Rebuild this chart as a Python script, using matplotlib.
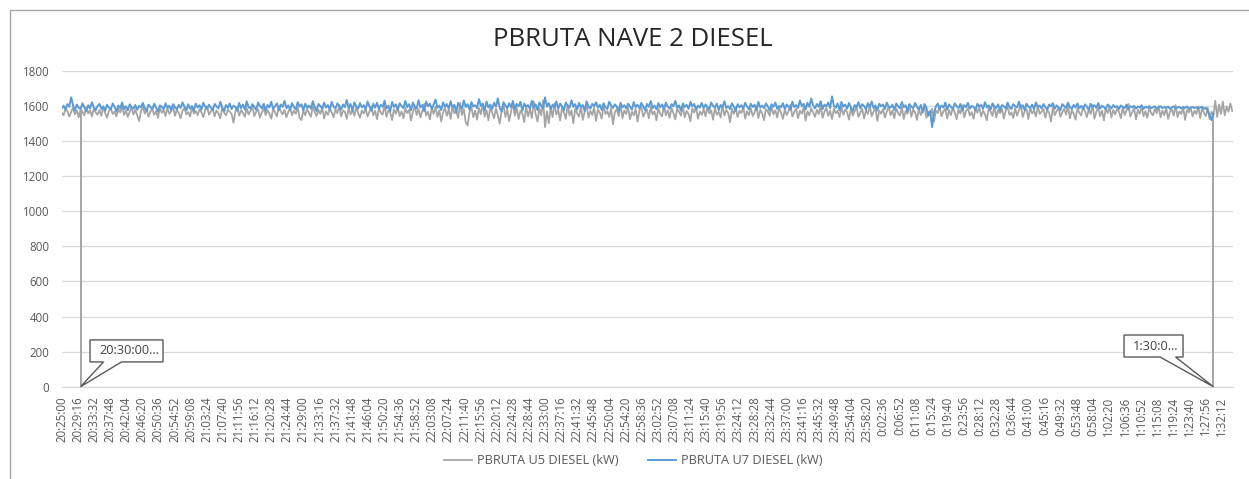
import matplotlib
matplotlib.use("Agg")
import matplotlib.pyplot as plt
from matplotlib.patches import Rectangle, Polygon
import numpy as np

plt.rcParams['font.family'] = ['Open Sans', 'DejaVu Sans']

# ---------------- data ----------------
title = "PBRUTA NAVE 2 DIESEL"
series_names = ["PBRUTA U5 DIESEL (kW)", "PBRUTA U7 DIESEL (kW)"]
start_seconds = 20 * 3600 + 25 * 60   # 20:25:00
step_s = 30                            # sampling step of the values below (s)
label_step_s = 256                     # spacing of category labels (s)
n_labels = 73
x_end_s = 18607

u5 = [
    1562, 1548, 1583, 1571, 1540, 1566, 1590, 1553, 1575, 1536, 1580, 1569, 1547, 1593, 1558, 1574, 1541, 1586, 1564, 1551,
    1578, 1545, 1597, 1560, 1533, 1572, 1588, 1555, 1569, 1542, 1584, 1563, 1599, 1549, 1576, 1538, 1567, 1591, 1552, 1580,
    1546, 1515, 1570, 1594, 1557, 1581, 1539, 1568, 1585, 1550, 1573, 1534, 1592, 1561, 1577, 1543, 1587, 1556, 1570, 1601,
    1544, 1579, 1560, 1531, 1574, 1589, 1553, 1566, 1540, 1595, 1557, 1572, 1548, 1583, 1565, 1537, 1578, 1599, 1551, 1569,
    1586, 1542, 1575, 1558, 1530, 1591, 1563, 1547, 1580, 1568, 1554, 1505, 1571, 1593, 1545, 1577, 1561, 1539, 1588, 1552,
    1574, 1596, 1543, 1567, 1582, 1535, 1562, 1590, 1549, 1576, 1557, 1528, 1585, 1564, 1541, 1598, 1570, 1553, 1579, 1537,
    1566, 1589, 1548, 1573, 1556, 1594, 1532, 1520, 1575, 1547, 1583, 1560, 1539, 1600, 1565, 1544, 1578, 1555, 1592, 1529,
    1571, 1550, 1587, 1563, 1536, 1581, 1559, 1604, 1541, 1574, 1567, 1527, 1590, 1552, 1579, 1545, 1596, 1561, 1533, 1576,
    1558, 1584, 1540, 1569, 1597, 1547, 1573, 1526, 1588, 1562, 1551, 1607, 1538, 1575, 1564, 1521, 1582, 1556, 1593, 1543,
    1570, 1531, 1589, 1560, 1578, 1517, 1566, 1601, 1549, 1583, 1535, 1572, 1612, 1546, 1568, 1524, 1587, 1555, 1597, 1539,
    1576, 1513, 1562, 1591, 1544, 1581, 1527, 1603, 1558, 1570, 1532, 1618, 1549, 1584, 1507, 1490, 1565, 1598, 1536, 1574,
    1523, 1589, 1553, 1611, 1540, 1577, 1519, 1595, 1561, 1530, 1586, 1548, 1500, 1572, 1606, 1538, 1581, 1515, 1567, 1620,
    1545, 1590, 1526, 1574, 1557, 1509, 1599, 1541, 1583, 1532, 1627, 1556, 1512, 1588, 1547, 1633, 1480, 1571, 1503, 1594,
    1537, 1615, 1552, 1579, 1518, 1592, 1563, 1528, 1605, 1546, 1575, 1502, 1586, 1559, 1540, 1597, 1521, 1568, 1610, 1534,
    1573, 1549, 1591, 1516, 1580, 1562, 1529, 1602, 1555, 1571, 1538, 1589, 1497, 1566, 1583, 1543, 1609, 1531, 1575, 1554,
    1592, 1525, 1568, 1547, 1585, 1511, 1574, 1598, 1539, 1563, 1581, 1530, 1596, 1552, 1570, 1519, 1588, 1557, 1541, 1603,
    1548, 1576, 1533, 1590, 1560, 1524, 1584, 1566, 1545, 1599, 1536, 1572, 1556, 1514, 1587, 1563, 1593, 1528, 1569, 1550,
    1582, 1541, 1597, 1558, 1575, 1522, 1589, 1551, 1567, 1534, 1606, 1546, 1578, 1561, 1508, 1585, 1555, 1592, 1537, 1574,
    1560, 1595, 1529, 1571, 1548, 1588, 1543, 1565, 1600, 1532, 1579, 1557, 1520, 1583, 1569, 1545, 1597, 1553, 1576, 1535,
    1590, 1562, 1527, 1581, 1549, 1572, 1608, 1540, 1566, 1585, 1531, 1574, 1556, 1594, 1518, 1570, 1547, 1588, 1563, 1539,
    1579, 1554, 1601, 1533, 1568, 1590, 1544, 1575, 1526, 1585, 1559, 1572, 1537, 1596, 1550, 1581, 1565, 1523, 1589, 1546,
    1570, 1598, 1538, 1563, 1584, 1529, 1577, 1555, 1604, 1542, 1568, 1590, 1516, 1574, 1557, 1583, 1535, 1567, 1597, 1548,
    1575, 1531, 1588, 1561, 1545, 1593, 1527, 1572, 1556, 1610, 1539, 1580, 1564, 1521, 1586, 1549, 1571, 1595, 1533, 1566,
    1552, 1584, 1510, 1575, 1560, 1599, 1541, 1569, 1587, 1530, 1577, 1548, 1592, 1563, 1525, 1581, 1557, 1604, 1536, 1571,
    1589, 1546, 1566, 1528, 1583, 1562, 1596, 1540, 1574, 1553, 1519, 1590, 1568, 1544, 1601, 1535, 1578, 1559, 1586, 1529,
    1572, 1597, 1550, 1563, 1532, 1588, 1545, 1576, 1608, 1537, 1569, 1584, 1526, 1592, 1558, 1574, 1541, 1599, 1555, 1567,
    1583, 1534, 1579, 1561, 1512, 1594, 1548, 1573, 1590, 1539, 1565, 1586, 1551, 1603, 1530, 1576, 1557, 1523, 1589, 1562,
    1546, 1598, 1571, 1537, 1582, 1555, 1605, 1528, 1567, 1591, 1543, 1574, 1519, 1587, 1560, 1596, 1535, 1578, 1552, 1584,
    1568, 1531, 1593, 1549, 1576, 1612, 1540, 1565, 1587, 1524, 1579, 1556, 1598, 1542, 1571, 1533, 1590, 1561, 1547, 1585,
    1559, 1600, 1536, 1574, 1548, 1592, 1527, 1567, 1583, 1545, 1606, 1538, 1570, 1555, 1595, 1521, 1578, 1564, 1589, 1541,
    1573, 1556, 1598, 1532, 1585, 1562, 1543, 1590, 1526, 1568, 1549, 1630, 1538, 1609, 1555, 1625, 1547, 1598, 1568, 1615,
    1572,
]

u7 = [
    1588, 1602, 1579, 1611, 1597, 1650, 1604, 1575, 1609, 1590, 1583, 1616, 1594, 1571, 1605, 1586, 1622, 1593, 1577, 1600,
    1612, 1584, 1598, 1573, 1607, 1591, 1580, 1615, 1596, 1569, 1603, 1588, 1620, 1582, 1599, 1576, 1610, 1592, 1585, 1606,
    1579, 1601, 1593, 1618, 1587, 1574, 1608, 1595, 1583, 1613, 1590, 1570, 1604, 1597, 1581, 1616, 1589, 1603, 1576, 1611,
    1594, 1582, 1607, 1589, 1621, 1598, 1575, 1610, 1586, 1600, 1572, 1614, 1592, 1605, 1580, 1619, 1596, 1584, 1608, 1591,
    1577, 1612, 1599, 1586, 1624, 1593, 1571, 1606, 1590, 1615, 1583, 1602, 1596, 1573, 1618, 1588, 1609, 1580, 1627, 1594,
    1585, 1611, 1597, 1578, 1620, 1601, 1587, 1613, 1574, 1606, 1592, 1625, 1583, 1599, 1616, 1576, 1609, 1595, 1630, 1588,
    1604, 1579, 1617, 1593, 1582, 1622, 1598, 1610, 1575, 1614, 1590, 1603, 1586, 1628, 1596, 1572, 1612, 1600, 1584, 1619,
    1591, 1606, 1578, 1624, 1597, 1587, 1615, 1602, 1580, 1609, 1594, 1635, 1589, 1612, 1573, 1621, 1599, 1585, 1617, 1593,
    1605, 1581, 1626, 1598, 1574, 1613, 1590, 1619, 1583, 1607, 1596, 1631, 1587, 1602, 1570, 1623, 1595, 1610, 1579, 1616,
    1600, 1588, 1629, 1594, 1611, 1576, 1620, 1597, 1585, 1633, 1592, 1606, 1571, 1625, 1599, 1614, 1582, 1609, 1637, 1590,
    1603, 1577, 1621, 1596, 1612, 1584, 1628, 1593, 1607, 1566, 1618, 1600, 1586, 1632, 1594, 1611, 1579, 1623, 1598, 1605,
    1588, 1640, 1601, 1614, 1575, 1626, 1592, 1609, 1583, 1619, 1597, 1644, 1590, 1568, 1622, 1604, 1587, 1616, 1594, 1629,
    1581, 1612, 1599, 1624, 1573, 1615, 1596, 1606, 1584, 1630, 1593, 1610, 1577, 1621, 1600, 1589, 1650, 1597, 1617, 1582,
    1608, 1593, 1626, 1586, 1614, 1599, 1575, 1620, 1602, 1590, 1633, 1596, 1611, 1580, 1618, 1594, 1606, 1572, 1627, 1598,
    1585, 1613, 1600, 1622, 1591, 1607, 1578, 1616, 1595, 1583, 1625, 1603, 1589, 1610, 1597, 1574, 1619, 1592, 1605, 1586,
    1614, 1598, 1579, 1623, 1594, 1608, 1587, 1618, 1600, 1576, 1612, 1596, 1628, 1588, 1603, 1582, 1617, 1593, 1609, 1580,
    1620, 1597, 1585, 1611, 1599, 1630, 1590, 1604, 1573, 1615, 1595, 1607, 1584, 1624, 1598, 1612, 1579, 1603, 1591, 1618,
    1587, 1609, 1596, 1580, 1621, 1601, 1592, 1614, 1576, 1606, 1594, 1627, 1589, 1600, 1583, 1616, 1597, 1572, 1611, 1593,
    1605, 1586, 1619, 1598, 1581, 1613, 1595, 1608, 1577, 1624, 1591, 1603, 1588, 1615, 1599, 1574, 1610, 1596, 1620, 1584,
    1602, 1592, 1617, 1583, 1609, 1597, 1578, 1625, 1594, 1606, 1589, 1632, 1600, 1613, 1580, 1619, 1595, 1643, 1604, 1587,
    1612, 1596, 1628, 1583, 1609, 1599, 1621, 1588, 1655, 1602, 1590, 1615, 1576, 1624, 1597, 1608, 1585, 1618, 1593, 1571,
    1606, 1595, 1622, 1587, 1611, 1600, 1580, 1617, 1594, 1626, 1589, 1604, 1575, 1613, 1598, 1609, 1583, 1620, 1596, 1591,
    1608, 1578, 1615, 1599, 1587, 1623, 1593, 1605, 1570, 1611, 1597, 1588, 1618, 1594, 1581, 1607, 1564, 1612, 1590, 1545,
    1572, 1480, 1560, 1598, 1614, 1585, 1603, 1592, 1620, 1579, 1609, 1596, 1583, 1616, 1600, 1588, 1612, 1575, 1605, 1594,
    1618, 1586, 1601, 1595, 1577, 1613, 1598, 1607, 1584, 1622, 1593, 1604, 1580, 1615, 1597, 1589, 1610, 1574, 1606, 1599,
    1587, 1619, 1596, 1583, 1611, 1600, 1592, 1625, 1588, 1605, 1578, 1614, 1597, 1590, 1608, 1582, 1621, 1595, 1603, 1586,
    1612, 1594, 1579, 1609, 1598, 1617, 1585, 1604, 1593, 1576, 1611, 1600, 1589, 1620, 1596, 1583, 1607, 1592, 1615, 1588,
    1601, 1584, 1610, 1597, 1578, 1613, 1595, 1605, 1590, 1618, 1586, 1602, 1594, 1581, 1609, 1598, 1587, 1606, 1592, 1600,
    1583, 1604, 1595, 1589, 1608, 1580, 1599, 1593, 1602, 1586, 1597, 1591, 1605, 1584, 1596, 1590, 1600, 1587, 1594, 1598,
    1585, 1592, 1599, 1588, 1595, 1590, 1597, 1584, 1593, 1598, 1587, 1591, 1596, 1586, 1594, 1589, 1598, 1583, 1592, 1595,
    1588, 1593, 1586, 1591, 1596, 1584, 1590, 1575, 1548, 1520, 1556,
]

# vertical marker lines (time offset in s, top value in kW) and callout labels
marker_times = [300, 18300]
marker_tops = [1570, 1560]
marker_labels = ["20:30:00...", "1:30:0..."]
callout_centers = [(1030, 204), (17349, 232)]   # callout box centres (s, kW)

y_ticks = [0, 200, 400, 600, 800, 1000, 1200, 1400, 1600, 1800]

# ---------------- helpers ----------------
def fmt_time(sec):
    sec = int(sec) % 86400
    h, r = divmod(sec, 3600)
    m, s = divmod(r, 60)
    return f"{h}:{m:02d}:{s:02d}"

tick_pos = [i * label_step_s for i in range(n_labels)]
tick_lbl = [fmt_time(start_seconds + p) for p in tick_pos]

t5 = np.arange(len(u5)) * step_s
t7 = np.arange(len(u7)) * step_s

# ---------------- figure ----------------
W, H = 1249, 479
fig = plt.figure(figsize=(W / 100, H / 100), dpi=100)
ax = fig.add_axes([61.7 / W, 1 - 386.7 / H, (1232.7 - 61.7) / W, (386.7 - 71) / H])

gray = "#A5A5A5"
blue = "#5B9BD5"
txt = "#595959"

ax.plot(t5, u5, color=gray, lw=1.3, label=series_names[0], zorder=3)
ax.plot(t7, u7, color=blue, lw=1.4, label=series_names[1], zorder=4)

for mt, top in zip(marker_times, marker_tops):
    ax.vlines(mt, 0, top, color=gray, lw=1.4, zorder=2)

ax.set_xlim(0, x_end_s)
ax.set_ylim(0, 1800)

# callouts: box + pointer drawn as one outline (pixel geometry)
box_geom = [  # half width, half height, pointer base x-offsets (px), text x-offset (px)
    (36.5, 11, -23, -5, 3),
    (29.5, 11, 6.5, 22, 2),
]
for mt, lab, (cx_d, cy_d), (hw, hh, b1, b2, tdx) in zip(marker_times, marker_labels,
                                                        callout_centers, box_geom):
    cx, cy = ax.transData.transform((cx_d, cy_d))
    tipx, tipy = ax.transData.transform((mt, 0))
    verts = [(cx - hw, cy + hh), (cx + hw, cy + hh), (cx + hw, cy - hh),
             (cx + b2, cy - hh), (tipx, tipy), (cx + b1, cy - hh), (cx - hw, cy - hh)]
    verts = ax.transData.inverted().transform(verts)
    ax.add_patch(Polygon(verts, closed=True, fc="white", ec="#595959", lw=1.0,
                         zorder=6, clip_on=False))
    tx, ty = ax.transData.inverted().transform((cx + tdx, cy))
    ax.text(tx, ty, lab, ha="center", va="center", fontsize=9.2, color="#404040", zorder=7)

ax.set_yticks(y_ticks)
ax.set_xticks(tick_pos)
ax.set_xticklabels(tick_lbl, rotation=90, ha="center", va="top")
ax.tick_params(axis="x", length=0, pad=7, labelsize=8.3, labelcolor=txt)
ax.tick_params(axis="y", length=0, pad=9, labelsize=8.3, labelcolor=txt)
ax.grid(axis="y", color="#D9D9D9", lw=0.9)
ax.set_axisbelow(True)
for s in ["top", "right", "left"]:
    ax.spines[s].set_visible(False)
ax.spines["bottom"].set_color("#D9D9D9")
ax.spines["bottom"].set_linewidth(0.9)

fig.text(0.507, 1 - 40 / H, title, ha="center", va="center", fontsize=18.5, color="#262626")

leg = fig.legend(loc="center", bbox_to_anchor=(0.507, 1 - 461 / H), ncol=2, frameon=False,
                 fontsize=9.2, handlelength=2.2, handletextpad=0.35, columnspacing=2.3)
for t in leg.get_texts():
    t.set_color(txt)

# outer chart border (top/left visible, rest outside image)
fig.add_artist(Rectangle((10 / W, -0.05), 1.1, 1 - 10 / H + 0.05, transform=fig.transFigure,
                         fill=False, ec="#A6A6A6", lw=1.0, clip_on=False))

fig.savefig("out.png", dpi=100)
